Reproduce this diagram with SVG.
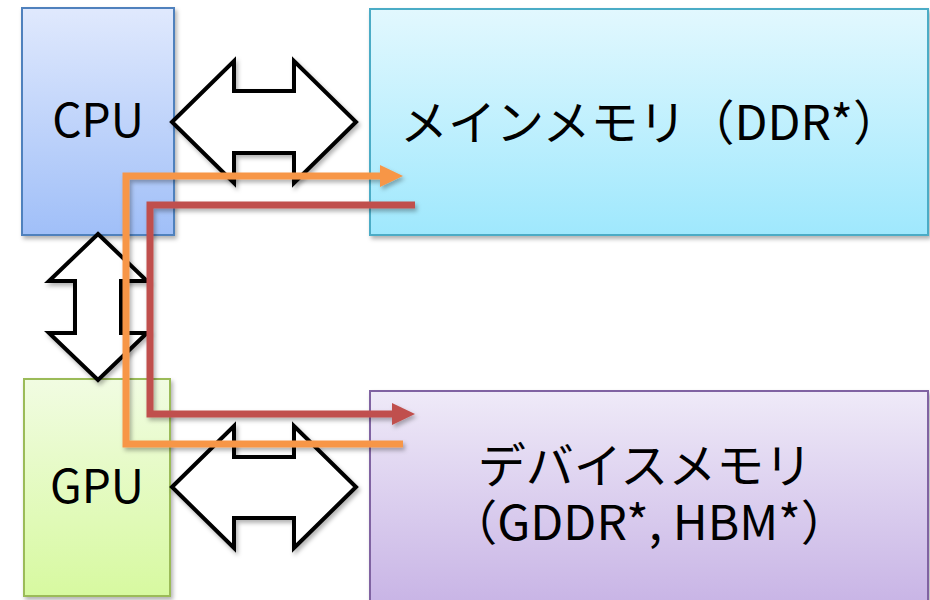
<svg xmlns="http://www.w3.org/2000/svg" width="930" height="600" viewBox="0 0 930 600">
<defs>
<linearGradient id="gCpu" x1="0" y1="0" x2="0" y2="1"><stop offset="0" stop-color="#e0e9fd"/><stop offset="1" stop-color="#a0bff8"/></linearGradient>
<linearGradient id="gGpu" x1="0" y1="0" x2="0" y2="1"><stop offset="0" stop-color="#f1fce2"/><stop offset="1" stop-color="#d7f9a0"/></linearGradient>
<linearGradient id="gMain" x1="0" y1="0" x2="0" y2="1"><stop offset="0" stop-color="#e2f8fe"/><stop offset="1" stop-color="#9fe8fd"/></linearGradient>
<linearGradient id="gDev" x1="0" y1="0" x2="0" y2="1"><stop offset="0" stop-color="#efeaf8"/><stop offset="1" stop-color="#c5b0e4"/></linearGradient>
<filter id="sh" x="-10%" y="-10%" width="130%" height="130%"><feDropShadow dx="2" dy="3" stdDeviation="2" flood-color="#000" flood-opacity="0.3"/></filter>
<marker id="mOr" markerUnits="userSpaceOnUse" markerWidth="24" markerHeight="24" viewBox="0 -12 24 24" refX="0" refY="0" orient="auto"><path d="M0,-11 L23,0 L0,11 z" fill="#f79646"/></marker>
<marker id="mRd" markerUnits="userSpaceOnUse" markerWidth="24" markerHeight="24" viewBox="0 -12 24 24" refX="0" refY="0" orient="auto"><path d="M0,-11 L23,0 L0,11 z" fill="#c0504d"/></marker>
</defs>
<style>
.box{stroke-width:2;filter:url(#sh)}
.lbl{font-family:"Noto Sans CJK JP","Noto Sans",sans-serif;font-size:46px;fill:#000}
.mem{font-size:48px}
.dbl{fill:#fff;stroke:#000;stroke-width:4;stroke-linejoin:miter;filter:url(#sh)}
.flow{fill:none;stroke-width:7;stroke-linejoin:miter;filter:url(#sh)}
</style>
<g id="cpu"><rect class="box" x="22" y="8" width="152" height="227" fill="url(#gCpu)" stroke="#4f81bd"/><text class="lbl" x="98" y="137" text-anchor="middle">CPU</text></g>
<g id="main-memory"><rect class="box" x="370" y="9" width="558" height="226" fill="url(#gMain)" stroke="#4bacc6"/><text class="lbl mem" x="400" y="140">メインメモリ（DDR*）</text></g>
<g id="gpu"><rect class="box" x="24" y="379" width="146" height="217" fill="url(#gGpu)" stroke="#9bbb59"/><text class="lbl" x="97" y="503" text-anchor="middle">GPU</text></g>
<g id="device-memory"><rect class="box" x="370" y="391" width="558" height="230" fill="url(#gDev)" stroke="#8064a2"/><text class="lbl mem" x="645" y="483" text-anchor="middle">デバイスメモリ</text><text class="lbl mem" x="649" y="540" text-anchor="middle">（GDDR*, HBM*）</text></g>
<g id="connectors">
<polygon class="dbl" points="172,122 234,61 234,91 294,91 294,61 356,122 294,183 294,153 234,153 234,183"/>
<polygon class="dbl" points="172,487 234,426 234,457 294,457 294,426 356,487 294,548 294,518 234,518 234,548"/>
<polygon class="dbl" points="98,234 147,281 121,281 121,333 147,333 98,380 49,333 75,333 75,281 49,281"/>
<path class="flow" d="M403,444 H126 V176 H380" stroke="#f79646" marker-end="url(#mOr)"/>
<path class="flow" d="M415,205 H150 V414 H392" stroke="#c0504d" marker-end="url(#mRd)"/>
</g>
</svg>
